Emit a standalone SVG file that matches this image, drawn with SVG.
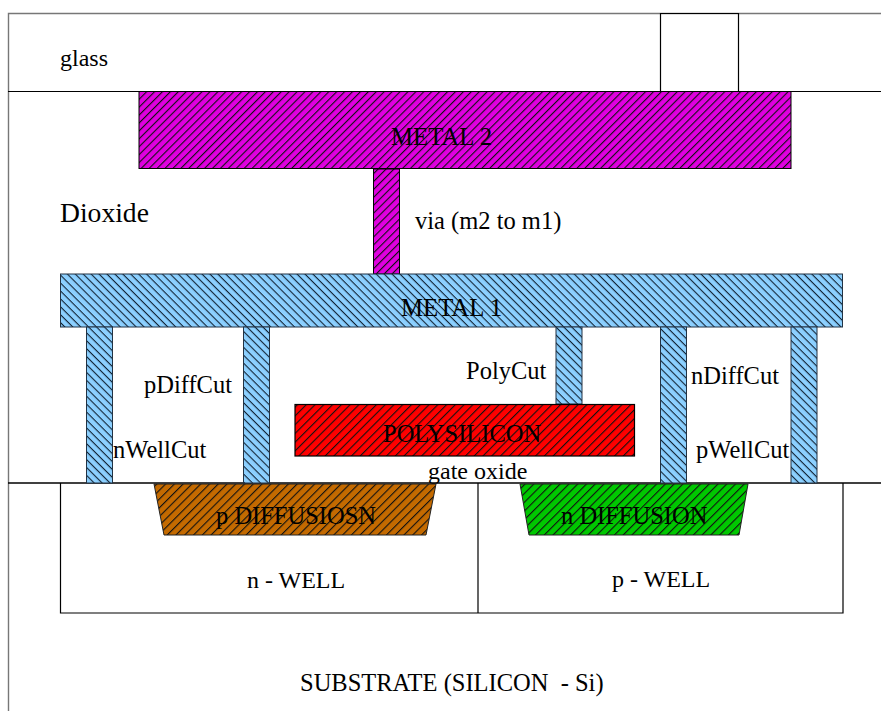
<svg xmlns="http://www.w3.org/2000/svg" width="881" height="711" viewBox="0 0 881 711">
<style>
text{font-family:"Liberation Serif","Times New Roman",serif;font-size:24.5px;fill:#000;white-space:pre}
.o{stroke:#000;stroke-width:1.2}
.line{stroke:#000;stroke-width:1.2;fill:none}
.gray{stroke:#777;stroke-width:1.4;fill:none}
.m1{fill:url(#hm1);stroke:#234;stroke-width:1}
.m2{fill:url(#hm2);stroke:#000;stroke-width:1}
</style>
<defs>
<pattern id="hm2" width="5.6" height="5.6" patternUnits="userSpaceOnUse" patternTransform="rotate(-45)"><rect width="5.6" height="5.6" fill="#e000e0"/><rect width="5.6" height="1.1" fill="#111"/></pattern>
<pattern id="hm1" width="5.6" height="5.6" patternUnits="userSpaceOnUse" patternTransform="rotate(45)"><rect width="5.6" height="5.6" fill="#8cd0ff"/><rect width="5.6" height="1.1" fill="#123"/></pattern>
<pattern id="hp" width="6.2" height="6.2" patternUnits="userSpaceOnUse" patternTransform="rotate(-45)"><rect width="6.2" height="6.2" fill="#ff0000"/><rect width="6.2" height="1.1" fill="#111"/></pattern>
<pattern id="hd" width="6.2" height="6.2" patternUnits="userSpaceOnUse" patternTransform="rotate(-45)"><rect width="6.2" height="6.2" fill="#c46a00"/><rect width="6.2" height="1.1" fill="#111"/></pattern>
<pattern id="hn" width="6.2" height="6.2" patternUnits="userSpaceOnUse" patternTransform="rotate(-45)"><rect width="6.2" height="6.2" fill="#00c800"/><rect width="6.2" height="1.1" fill="#111"/></pattern>
</defs>
<g id="frame">
<path class="gray" d="M8.5 711V13.5H881"/>
<path class="line" d="M8 91.5H881"/>
<path class="line" d="M660.5 13V91M738.5 13V91M660 13.5H739"/>
<path class="line" d="M8 483H881" style="stroke-width:1.6"/>
</g>
<g id="glass"><text x="60" y="66" style="font-size:24px">glass</text></g>
<g id="dioxide"><text x="60" y="222" style="font-size:27.6px">Dioxide</text></g>
<g id="metal2"><rect class="m2" x="139" y="91.5" width="652" height="77"/><text x="391" y="145" style="font-size:24.8px">METAL 2</text></g>
<g id="via"><rect class="m2" x="373.5" y="169" width="26" height="105"/><text x="415" y="229">via (m2 to m1)</text></g>
<g id="metal1"><rect class="m1" x="60.5" y="274" width="782" height="53"/><text x="401" y="316" style="font-size:24.8px">METAL 1</text></g>
<g id="cuts">
<rect class="m1" x="86.5" y="327" width="26" height="156"/>
<rect class="m1" x="243.5" y="327" width="26" height="156"/>
<rect class="m1" x="556" y="327" width="26" height="77"/>
<rect class="m1" x="660.5" y="327" width="26" height="156"/>
<rect class="m1" x="791" y="327" width="26" height="156"/>
<text x="113" y="458">nWellCut</text>
<text x="144" y="393">pDiffCut</text>
<text x="466" y="379">PolyCut</text>
<text x="691" y="384">nDiffCut</text>
<text x="696" y="458">pWellCut</text>
</g>
<g id="poly"><rect x="295" y="404.5" width="339.5" height="51.5" fill="url(#hp)" class="o"/><text x="383" y="442">POLYSILICON</text></g>
<g id="gate-oxide"><text x="428" y="479" style="font-size:24px">gate oxide</text></g>
<g id="wells"><path class="line" d="M60.5 483V613H843V483M478 483V613"/><text x="247" y="588" style="font-size:24px">n - WELL</text><text x="612" y="587" style="font-size:24px">p - WELL</text></g>
<g id="pdiff"><polygon points="154,484 164,535 426,535 436,484" fill="url(#hd)" stroke="#222" stroke-width="1"/><text x="216" y="524">p DIFFUSIOSN</text></g>
<g id="ndiff"><polygon points="520,484 529,535 739,535 748,484" fill="url(#hn)" stroke="#222" stroke-width="1"/><text x="561" y="524">n DIFFUSION</text></g>
<g id="substrate"><text x="300" y="691">SUBSTRATE (SILICON  - Si)</text></g>
</svg>
